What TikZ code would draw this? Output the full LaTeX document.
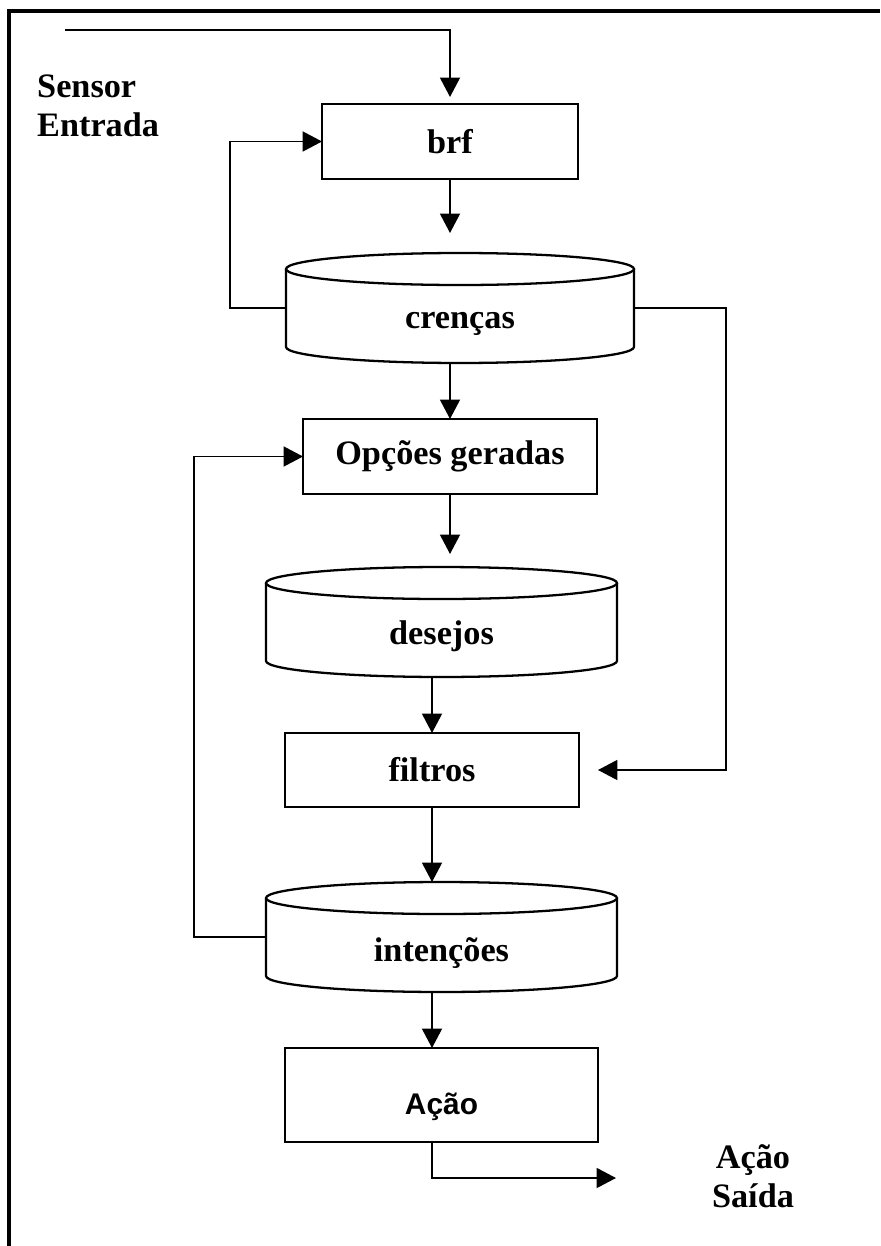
\documentclass[tikz,border=0pt]{standalone}
\usepackage{fontspec}
\setmainfont{Liberation Serif}
\newfontfamily\acaofont{Liberation Sans}
\usepackage{tikz}
\usetikzlibrary{arrows.meta}
\newcommand{\lowtext}[2][0.32cm]{\raisebox{-#1}[\height][\depth]{#2}}
% cylinder outline around a store node: #1 node name, #2 half width
\newcommand{\drum}[2]{%
  \draw[line width=1.3pt] ([yshift=-0.32cm]#1.north west) -- ([yshift=0.32cm]#1.south west)
    arc[start angle=180, end angle=360, x radius=#2, y radius=0.32cm]
    -- ([yshift=-0.32cm]#1.north east);
  \draw[line width=1.3pt] ([yshift=-0.32cm]#1.north) ellipse [x radius=#2, y radius=0.32cm];}
\tikzset{
  txt/.style={font=\bfseries\fontsize{19.5}{22.2}\selectfont},
  box/.style={txt, draw, line width=1.4pt, outer sep=0pt, inner sep=0pt},
  store/.style={txt, outer sep=0pt, inner sep=0pt, minimum height=2.2cm},
  flow/.style={line width=1.1pt, -{Triangle[length=0.39cm, width=0.4cm]}}
}

\begin{document}
\begin{tikzpicture}[x=0.02cm, y=-0.02cm]
  \useasboundingbox (0,0) rectangle (880,1246);
  \draw[line width=1.8pt] (9,1246) -- (9,11) -- (880,11);
  % nodes
  \node[box, minimum width=5.12cm, minimum height=1.5cm] (brf) at (450,141.5) {brf};
  \node[store, minimum width=6.96cm] (cren) at (460,308) {\lowtext{crenças}};
  \node[box, minimum width=5.88cm, minimum height=1.5cm] (opc) at (450,456.5) {Opções geradas};
  \node[store, minimum width=7.02cm] (des) at (441.5,622) {\lowtext[0.28cm]{desejos}};
  \node[box, minimum width=5.88cm, minimum height=1.48cm] (fil) at (432,770) {filtros};
  \node[store, minimum width=7.02cm] (int) at (441.5,937) {\lowtext{intenções}};
  \node[box, minimum width=6.26cm, minimum height=1.88cm, font=\acaofont\bfseries\fontsize{17}{20}\selectfont]
    (aca) at (441.5,1095) {\lowtext[0.24cm]{Ação}};
  \drum{cren}{3.48cm}
  \drum{des}{3.51cm}
  \drum{int}{3.51cm}
  \node[txt, anchor=west, align=left] (sensor) at (31,106) {Sensor\\Entrada};
  \node[txt, align=center] (saida) at (753,1176) {Ação\\Saída};
  \coordinate (in) at (65,30);
  \coordinate (out) at (616,1178);
  % connectors
  \draw[flow, shorten >=0.14cm] (in) -| (brf.north);
  \draw[flow, shorten >=0.4cm] (brf.south) -- (brf.south |- cren.north);
  \draw[flow] (cren.west) -- ++(-56,0) |- (brf.west);
  \draw[flow, shorten >=0.38cm] (cren.east) -- ++(92,0) |- (fil.east);
  \draw[flow] (opc.north |- cren.south) -- (opc.north);
  \draw[flow, shorten >=0.26cm] (opc.south) -- (opc.south |- des.north);
  \draw[flow] (fil.north |- des.south) -- (fil.north);
  \draw[flow] (fil.south) -- (fil.south |- int.north);
  \draw[flow] (int.west) -- ++(-72,0) |- (opc.west);
  \draw[flow] (int.south -| fil.south) -- (aca.north -| fil.south);
  \draw[flow] (aca.south -| fil.south) |- (out);
\end{tikzpicture}
\end{document}
